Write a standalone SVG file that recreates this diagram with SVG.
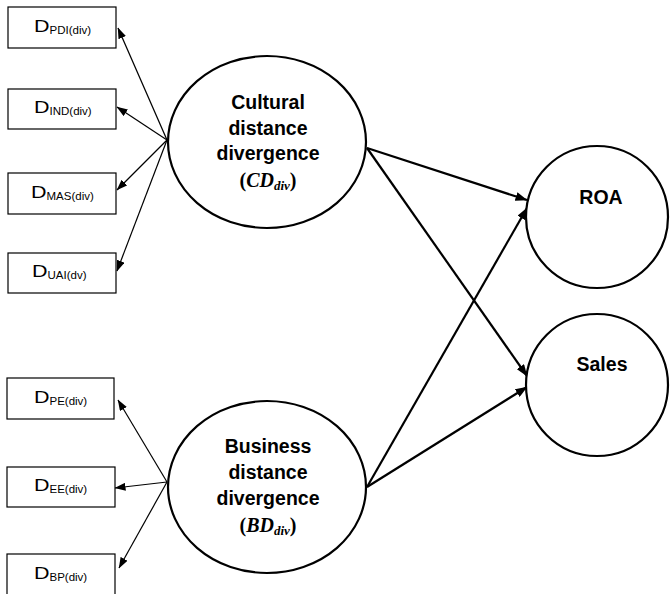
<svg xmlns="http://www.w3.org/2000/svg" width="670" height="594" viewBox="0 0 670 594">
<style>
.box{fill:#fff;stroke:#000;stroke-width:1.2}
.ell{fill:#fff;stroke:#000;stroke-width:2.2}
.thin{stroke:#000;stroke-width:1.2;fill:none}
.thick{stroke:#000;stroke-width:2.2;fill:none}
.d{font-family:"Liberation Sans",Arial,sans-serif;font-size:16px;fill:#000}
.sub{font-family:"Liberation Sans",Arial,sans-serif;font-size:11.5px;fill:#000}
.bt{font-family:"Liberation Sans",Arial,sans-serif;font-size:19.5px;font-weight:bold;fill:#000;text-anchor:middle}
.tm{font-family:"Liberation Serif","Times New Roman",serif;font-size:20px;font-weight:bold;fill:#000;text-anchor:middle}
</style>
<defs>
<marker id="ah" markerUnits="userSpaceOnUse" viewBox="0 0 11 8" refX="10.5" refY="4" markerWidth="11" markerHeight="8" orient="auto">
<path d="M0,0 L11,4 L0,8 z" fill="#000"/>
</marker>
<marker id="ahb" markerUnits="userSpaceOnUse" viewBox="0 0 12 9" refX="11.5" refY="4.5" markerWidth="12" markerHeight="9" orient="auto">
<path d="M0,0 L12,4.5 L0,9 z" fill="#000"/>
</marker>
</defs>
<g id="connectors">
<line class="thin" x1="167" y1="140" x2="118" y2="28" marker-end="url(#ah)"/>
<line class="thin" x1="167" y1="140" x2="117" y2="107" marker-end="url(#ah)"/>
<line class="thin" x1="167" y1="140" x2="117" y2="190" marker-end="url(#ah)"/>
<line class="thin" x1="167" y1="140" x2="117" y2="271" marker-end="url(#ah)"/>
<line class="thin" x1="167" y1="482" x2="118" y2="400" marker-end="url(#ah)"/>
<line class="thin" x1="167" y1="482" x2="115" y2="488" marker-end="url(#ah)"/>
<line class="thin" x1="167" y1="482" x2="119" y2="568" marker-end="url(#ah)"/>
<line class="thick" x1="367" y1="148" x2="527" y2="200" marker-end="url(#ahb)"/>
<line class="thick" x1="367" y1="148" x2="527" y2="376" marker-end="url(#ahb)"/>
<line class="thick" x1="367" y1="487" x2="527" y2="208" marker-end="url(#ahb)"/>
<line class="thick" x1="367" y1="487" x2="527" y2="387" marker-end="url(#ahb)"/>
</g>
<g id="pdi"><rect class="box" x="8" y="7" width="108" height="41"/><text class="d" x="34" y="31.5" textLength="15.5" lengthAdjust="spacingAndGlyphs">D</text><text class="sub" x="49.5" y="33.5">PDI(div)</text></g>
<g id="ind"><rect class="box" x="8" y="89" width="108" height="40"/><text class="d" x="34" y="113" textLength="15.5" lengthAdjust="spacingAndGlyphs">D</text><text class="sub" x="49.5" y="115">IND(div)</text></g>
<g id="mas"><rect class="box" x="8" y="173" width="108" height="41"/><text class="d" x="31" y="197.5" textLength="15.5" lengthAdjust="spacingAndGlyphs">D</text><text class="sub" x="46.5" y="199.5">MAS(div)</text></g>
<g id="uai"><rect class="box" x="8" y="253" width="108" height="40"/><text class="d" x="32" y="277" textLength="15.5" lengthAdjust="spacingAndGlyphs">D</text><text class="sub" x="47.5" y="279">UAI(dv)</text></g>
<g id="pe"><rect class="box" x="7" y="378" width="107" height="41"/><text class="d" x="34" y="402.5" textLength="15.5" lengthAdjust="spacingAndGlyphs">D</text><text class="sub" x="49.5" y="404.5">PE(div)</text></g>
<g id="ee"><rect class="box" x="7" y="467" width="108" height="40"/><text class="d" x="34" y="491" textLength="15.5" lengthAdjust="spacingAndGlyphs">D</text><text class="sub" x="49.5" y="493">EE(div)</text></g>
<g id="bp"><rect class="box" x="7" y="554" width="108" height="45"/><text class="d" x="34" y="579" textLength="15.5" lengthAdjust="spacingAndGlyphs">D</text><text class="sub" x="49.5" y="581">BP(div)</text></g>
<g id="cd">
<ellipse class="ell" cx="267" cy="142" rx="99" ry="86"/>
<text class="bt" x="268" y="109">Cultural</text>
<text class="bt" x="268" y="134.5">distance</text>
<text class="bt" x="268" y="160">divergence</text>
<text class="tm" x="268" y="187">(<tspan font-style="italic">CD</tspan><tspan font-style="italic" font-size="13" dy="3">div</tspan><tspan dy="-3">)</tspan></text>
</g>
<g id="bd">
<ellipse class="ell" cx="267" cy="487" rx="99" ry="86"/>
<text class="bt" x="268" y="453">Business</text>
<text class="bt" x="268" y="479">distance</text>
<text class="bt" x="268" y="505">divergence</text>
<text class="tm" x="268" y="532">(<tspan font-style="italic">BD</tspan><tspan font-style="italic" font-size="13" dy="3">div</tspan><tspan dy="-3">)</tspan></text>
</g>
<g id="roa">
<circle class="ell" cx="597" cy="217" r="71"/>
<text class="bt" x="601" y="204">ROA</text>
</g>
<g id="sales">
<circle class="ell" cx="597" cy="385" r="71"/>
<text class="bt" x="602" y="371">Sales</text>
</g>
</svg>
